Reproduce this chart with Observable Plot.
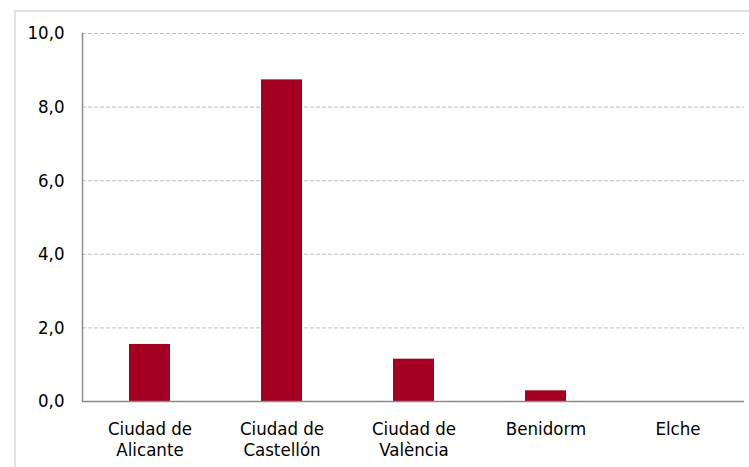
<!DOCTYPE html>
<html>
<head>
<meta charset="utf-8">
<script src="https://cdn.jsdelivr.net/npm/d3@7"></script>
<script src="https://cdn.jsdelivr.net/npm/@observablehq/plot@0.6"></script>
<style>
  html, body { margin: 0; padding: 0; background: #fff; }
  #wrap { position: relative; width: 749px; height: 467px; overflow: hidden; }
  #frame { position: absolute; left: 14px; top: 10px; width: 760px; height: 480px; border-left: 2px solid #e2e2e2; border-top: 2px solid #e2e2e2; box-sizing: border-box; }
  #chart { position: absolute; left: 0; top: 0; }
</style>
</head>
<body>
<div id="wrap"><div id="frame"></div><div id="chart"></div></div>
<script>
const categories = ["Ciudad de\nAlicante", "Ciudad de\nCastellón", "Ciudad de\nValència", "Benidorm", "Elche"];
const values = [1.55, 8.74, 1.15, 0.29, 0];
const yTicks = [0, 2, 4, 6, 8, 10];

const data = categories.map((c, i) => ({category: c, value: values[i]}));
const fmt = d => d.toFixed(1).replace(".", ",");

const chart = Plot.plot({
  width: 749,
  height: 467,
  marginLeft: 82,
  marginRight: 5,
  marginTop: 33,
  marginBottom: 66,
  style: {fontFamily: "'DejaVu Sans Condensed', 'DejaVu Sans'", fontSize: "18.5px", color: "#000", background: "transparent"},
  x: {domain: categories, paddingInner: 0.69, paddingOuter: 0.345, align: 0.5, axis: null},
  y: {domain: [0, 10], axis: null},
  marks: [
    Plot.gridY(yTicks, {stroke: "#bdbdbd", strokeOpacity: 1, strokeDasharray: "4,2", strokeWidth: 1}),
    Plot.barY(data, {x: "category", y: "value", fill: "#a50021"}),
    Plot.axisY(yTicks, {tickSize: 0, tickPadding: 18, tickFormat: fmt, fontSize: 18.5, fill: "#000", label: null}),
    Plot.ruleY([0], {stroke: "#8c8c8c", strokeWidth: 1.5}),
    Plot.frame({anchor: "left", stroke: "#8c8c8c", strokeWidth: 1.5}),
    Plot.text(data, {x: "category", text: "category", frameAnchor: "bottom", lineAnchor: "top", dy: 19, lineHeight: 1.135, fontSize: 18.5, fill: "#000"})
  ]
});
document.getElementById("chart").appendChild(chart);
</script>
</body>
</html>
